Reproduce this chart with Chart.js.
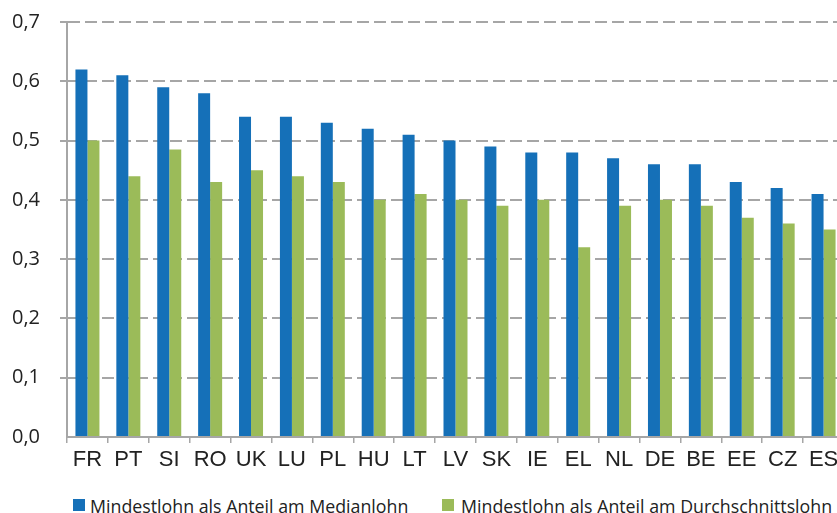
<!DOCTYPE html>
<html>
<head>
<meta charset="utf-8">
<script src="https://cdn.jsdelivr.net/npm/chart.js@4"></script>
<style>
  body { margin: 0; background: #fff; overflow: hidden; }
  #wrap { position: relative; width: 845px; height: 513px; }
  #box { position: absolute; left: 0; top: 0; width: 845px; height: 485px; }
  .item { position: absolute; top: 494px; font: 17.8px "Open Sans", sans-serif; color: #222; white-space: nowrap; }
  .item span.sw { position: absolute; top: 5px; width: 12px; height: 12px; }
</style>
</head>
<body>
<div id="wrap">
  <div id="box"><canvas id="chart"></canvas></div>
  <div id="legend"></div>
</div>
<script>
// DATA
const countries = ["FR", "PT", "SI", "RO", "UK", "LU", "PL", "HU", "LT", "LV", "SK", "IE", "EL", "NL", "DE", "BE", "EE", "CZ", "ES"];
const median = [0.62, 0.61, 0.59, 0.58, 0.54, 0.54, 0.53, 0.52, 0.51, 0.50, 0.49, 0.48, 0.48, 0.47, 0.46, 0.46, 0.43, 0.42, 0.41];
const average = [0.50, 0.44, 0.485, 0.43, 0.45, 0.44, 0.43, 0.40, 0.41, 0.40, 0.39, 0.40, 0.32, 0.39, 0.40, 0.39, 0.37, 0.36, 0.35];
const seriesNames = ["Mindestlohn als Anteil am Medianlohn", "Mindestlohn als Anteil am Durchschnittslohn"];
const colors = ["#1570B8", "#9BBB59"];

const gridColor = "#A6A6A6";

const chart = new Chart(document.getElementById("chart"), {
  type: "bar",
  data: {
    labels: countries,
    datasets: [
      { label: seriesNames[0], data: median, backgroundColor: colors[0] },
      { label: seriesNames[1], data: average, backgroundColor: colors[1] }
    ]
  },
  options: {
    responsive: true,
    maintainAspectRatio: false,
    animation: false,
    layout: { padding: { top: 22, right: 1, left: 0, bottom: 0 } },
    datasets: { bar: { categoryPercentage: 0.587, barPercentage: 1.0 } },
    plugins: {
      legend: { display: false },
      tooltip: { enabled: false }
    },
    scales: {
      x: {
        grid: { drawOnChartArea: false, drawTicks: true, tickLength: 6, color: gridColor, lineWidth: 1.5 },
        border: { color: gridColor, width: 2 },
        ticks: {
          padding: 4,
          color: "#222",
          font: { family: "Liberation Sans, Arial, sans-serif", size: 22 }
        },
        afterFit: (s) => { s.height = 48; }
      },
      y: {
        min: 0,
        max: 0.7,
        grid: {
          color: (ctx) => ctx.tick && ctx.tick.value === 0 ? "rgba(0,0,0,0)" : gridColor,
          lineWidth: 2,
          tickLength: 7
        },
        border: { color: gridColor, width: 2, dash: [12, 5] },
        ticks: {
          stepSize: 0.1,
          padding: 20,
          color: "#222",
          font: { family: "Open Sans, sans-serif", size: 20 },
          callback: (v) => v.toFixed(1).replace(".", ",")
        },
        // fixed axis width; drop the label overhang so the plot top sits at the layout padding
        afterFit: (s) => { s.width = 67; s.paddingTop = 0; s.paddingBottom = 0; }
      }
    }
  }
});

// LEGEND
const legendPos = [[73, 90], [442, 461]];
const legend = document.getElementById("legend");
seriesNames.forEach((name, i) => {
  const it = document.createElement("div");
  it.className = "item";
  it.style.left = legendPos[i][0] + "px";
  it.style.paddingLeft = (legendPos[i][1] - legendPos[i][0]) + "px";
  const sw = document.createElement("span");
  sw.className = "sw";
  sw.style.left = "0px";
  sw.style.background = colors[i];
  it.appendChild(sw);
  it.appendChild(document.createTextNode(name));
  legend.appendChild(it);
});
</script>
</body>
</html>
